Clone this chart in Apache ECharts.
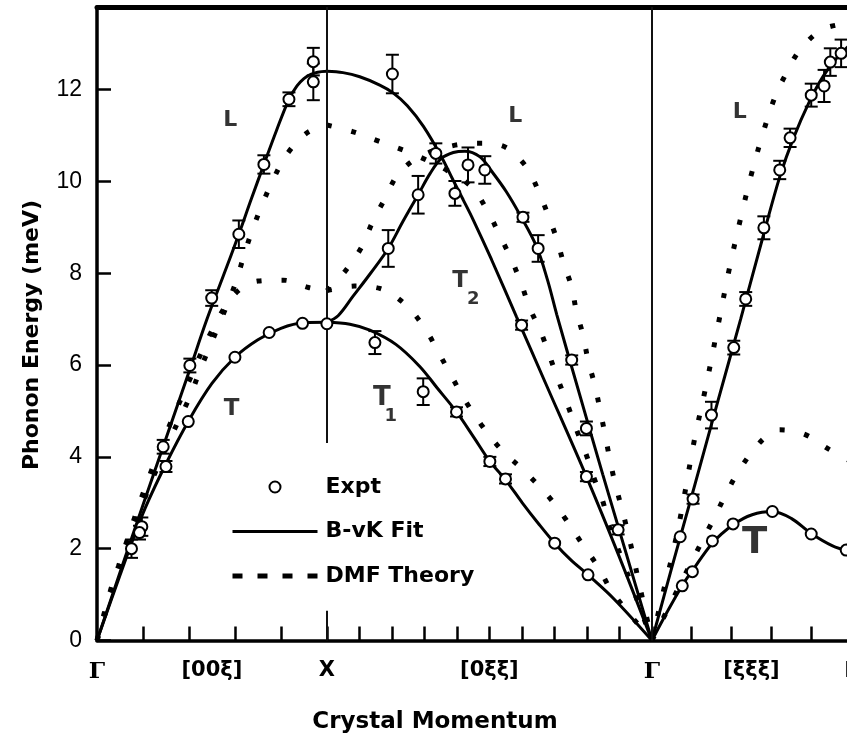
<!DOCTYPE html>
<html><head><meta charset="utf-8">
<script src="https://cdn.jsdelivr.net/npm/echarts@6/dist/echarts.min.js"></script>
<style>html,body{margin:0;padding:0;background:#fff;} #c{width:847px;height:742px;}</style>
</head><body><div id="c"></div>
<script>
// ---------- axis data ----------
const xMax = 3.28, yMax = 13.8;
const yTicks = [0, 2, 4, 6, 8, 10, 12];
const xTickPositions = [0.2, 0.4, 0.6, 0.8, 1.0, 1.141, 1.283, 1.424, 1.566, 1.707, 1.849, 1.990, 2.131, 2.273, 2.414, 2.587, 2.761, 2.934, 3.107];
const xLabelPositions = [0, 0.5, 1.0, 1.707, 2.414, 2.847];
const xLabelTexts = ['Γ', '[00ξ]', 'X', '[0ξξ]', 'Γ', '[ξξξ]'];
const edgeLabel = [3.28, 'L'];
const symX = 1.0, symGamma2 = 2.414;
const xLineBottom = 4.3, xTickTop = 0.65;

// ---------- B-vK fit curves [q, E] ----------
const bvkL1 = [[0,0],[0.1,1.48],[0.2,2.95],[0.3,4.4],[0.4,5.85],[0.477,6.98],[0.55,7.95],[0.617,8.85],[0.67,9.6],[0.726,10.37],[0.78,11.1],[0.835,11.79],[0.87,12.08],[0.9,12.24],[0.93,12.33],[0.96,12.38],[1.0,12.4]];
const bvkT1 = [[0,0],[0.1,1.42],[0.2,2.77],[0.3,3.85],[0.4,4.8],[0.5,5.6],[0.6,6.17],[0.7,6.55],[0.8,6.8],[0.9,6.92],[1.0,6.93]];
const bvkL2 = [[1.0,12.4],[1.07,12.37],[1.143,12.28],[1.23,12.1],[1.288,11.93],[1.35,11.65],[1.42,11.2],[1.498,10.54],[1.55,10.02],[1.593,9.6],[1.636,9.17],[1.716,8.3],[1.825,7.05],[1.95,5.62],[2.129,3.57],[2.27,1.85],[2.414,0]];
const bvkT2 = [[1.0,6.93],[1.05,7.08],[1.114,7.5],[1.19,8.0],[1.267,8.54],[1.33,9.12],[1.397,9.71],[1.45,10.18],[1.498,10.5],[1.55,10.63],[1.6,10.66],[1.665,10.54],[1.72,10.2],[1.78,9.78],[1.839,9.28],[1.912,8.58],[1.96,7.85],[2.0,7.1],[2.1,5.35],[2.2,3.62],[2.3,1.93],[2.414,0]];
const bvkT1b = [[1.0,6.93],[1.1,6.89],[1.187,6.76],[1.3,6.45],[1.404,5.97],[1.48,5.5],[1.564,4.98],[1.64,4.42],[1.709,3.9],[1.777,3.5],[1.85,3.0],[1.92,2.55],[1.991,2.12],[2.06,1.76],[2.136,1.43],[2.25,0.9],[2.414,0]];
const bvkL3 = [[2.414,0],[2.5,1.58],[2.6,3.38],[2.7,5.2],[2.8,7.0],[2.9,8.85],[2.97,10.1],[3.03,10.95],[3.1,11.75],[3.16,12.3],[3.22,12.7],[3.28,13.0]];
const bvkT3 = [[2.414,0],[2.48,0.62],[2.546,1.2],[2.59,1.52],[2.677,2.12],[2.767,2.52],[2.85,2.74],[2.938,2.81],[3.02,2.66],[3.107,2.33],[3.2,2.06],[3.28,1.93]];

// ---------- DMF theory curves [q, E] ----------
const dmfL1 = [[0,0],[0.1,1.6],[0.2,3.0],[0.3,4.2],[0.404,5.31],[0.448,5.89],[0.488,6.37],[0.532,6.9],[0.578,7.46],[0.607,7.85],[0.643,8.45],[0.68,9.0],[0.723,9.55],[0.767,10.05],[0.827,10.6],[0.914,11.06],[1.0,11.23]];
const dmfT1 = [[0,0],[0.057,1.06],[0.093,1.61],[0.2,3.2],[0.3,4.5],[0.4,5.65],[0.5,6.75],[0.6,7.55],[0.7,7.83],[0.81,7.85],[0.92,7.69],[1.0,7.62]];
const dmfL2 = [[1.0,11.23],[1.115,11.08],[1.23,10.87],[1.339,10.67],[1.41,10.52],[1.52,10.25],[1.629,9.88],[1.701,9.34],[1.752,8.82],[1.803,8.3],[1.847,7.75],[1.883,7.24],[1.933,6.69],[1.97,6.18],[2.006,5.68],[2.049,5.11],[2.086,4.59],[2.129,4.04],[2.165,3.5],[2.201,3.02],[2.23,2.48],[2.274,1.9],[2.33,1.15],[2.414,0]];
const dmfT2 = [[1.0,7.62],[1.079,8.04],[1.151,8.57],[1.199,9.12],[1.252,9.62],[1.313,10.18],[1.412,10.56],[1.549,10.78],[1.658,10.83],[1.76,10.78],[1.861,10.36],[1.919,9.81],[1.962,9.27],[1.999,8.76],[2.03,8.22],[2.064,7.71],[2.086,7.16],[2.114,6.66],[2.136,6.11],[2.165,5.57],[2.187,5.06],[2.209,4.51],[2.23,3.97],[2.252,3.46],[2.281,2.91],[2.31,2.34],[2.332,1.86],[2.353,1.36],[2.414,0]];
const dmfT1b = [[1.0,7.62],[1.12,7.72],[1.23,7.67],[1.339,7.33],[1.426,6.8],[1.484,6.29],[1.542,5.76],[1.6,5.24],[1.673,4.69],[1.76,4.15],[1.861,3.68],[1.962,3.15],[2.042,2.62],[2.114,2.08],[2.179,1.61],[2.245,1.03],[2.414,0]];
const dmfL3 = [[2.414,0],[2.47,1.2],[2.5,1.8],[2.542,2.8],[2.6,4.4],[2.65,5.56],[2.7,6.82],[2.75,8.08],[2.8,9.2],[2.85,10.22],[2.9,11.1],[2.95,11.85],[3.0,12.37],[3.06,12.88],[3.16,13.32],[3.28,13.45]];
const dmfT3 = [[2.414,0],[2.5,0.85],[2.6,1.85],[2.68,2.62],[2.73,3.13],[2.79,3.68],[2.864,4.2],[2.92,4.48],[2.97,4.59],[3.074,4.5],[3.183,4.17],[3.28,3.9]];

// ---------- experiment [q, E, error] ----------
const exptL1 = [[0.15,2.0,0.2],[0.195,2.48,0.2],[0.288,4.22,0.15],[0.404,5.99,0.15],[0.499,7.46,0.17],[0.617,8.85,0.3],[0.726,10.37,0.2],[0.835,11.79,0.15],[0.941,12.17,0.4],[0.941,12.61,0.3]];
const exptT1 = [[0.185,2.35,0.15],[0.3,3.79,0.12],[0.397,4.77,0],[0.6,6.17,0],[0.749,6.71,0],[0.894,6.91,0],[1.0,6.9,0]];
const exptL2 = [[1.285,12.34,0.42],[1.557,9.74,0.27],[1.847,6.87,0.1],[2.129,3.57,0.1]];
const exptT2 = [[1.267,8.54,0.4],[1.397,9.71,0.41],[1.474,10.61,0.22],[1.614,10.36,0.38],[1.687,10.25,0.3],[1.853,9.22,0.1],[1.919,8.54,0.29],[2.065,6.11,0.1],[2.129,4.62,0.15],[2.267,2.41,0.1]];
const exptT1b = [[1.209,6.49,0.25],[1.419,5.42,0.29],[1.564,4.98,0.1],[1.709,3.9,0.1],[1.777,3.52,0.1],[1.991,2.12,0],[2.136,1.43,0]];
const exptL3 = [[2.537,2.26,0],[2.593,3.08,0.1],[2.673,4.91,0.29],[2.77,6.38,0.15],[2.822,7.44,0.15],[2.901,8.99,0.25],[2.97,10.25,0.2],[3.015,10.95,0.2],[3.107,11.88,0.25],[3.163,12.08,0.35],[3.19,12.6,0.3],[3.237,12.79,0.3]];
const exptT3 = [[2.546,1.19,0],[2.59,1.5,0],[2.677,2.17,0],[2.767,2.54,0],[2.938,2.81,0],[3.107,2.32,0],[3.259,1.97,0]];

// ---------- branch annotations [q, E, text, fontSize] ----------
const annotations = [[0.58,11.34,'L',22],[1.82,11.43,'L',22],[2.796,11.51,'L',22],[0.585,5.05,'T',23],[1.239,5.28,'T',26],[1.278,4.88,'1',18],[1.58,7.82,'T',23],[1.637,7.44,'2',18],[2.861,2.11,'T',37]];

const allExpt = [].concat(exptL1, exptT1, exptL2, exptT2, exptT1b, exptL3, exptT3);
const errData = allExpt.filter(d => d[2] > 0);

const FONT = 'DejaVu Sans';
const bvkCurves = [bvkL1, bvkT1, bvkL2, bvkT2, bvkT1b, bvkL3, bvkT3];
const dmfCurves = [dmfL1, dmfT1, dmfL2, dmfT2, dmfT1b, dmfL3, dmfT3];

const series = [];
bvkCurves.forEach((c, i) => {
  const s = {
    name: 'B-vK Fit', type: 'line', data: c, smooth: 0.35, symbol: 'none', z: 3,
    itemStyle: { color: '#000' },
    lineStyle: { color: '#000', width: 3 }, silent: true
  };
  if (i === 0) {
    s.markLine = {
      symbol: ['none', 'none'], silent: true, label: { show: false },
      lineStyle: { color: '#111', width: 2, type: 'solid' },
      data: [
        [{ coord: [symX, xLineBottom] }, { coord: [symX, yMax] }],
        [{ coord: [symX, 0] }, { coord: [symX, xTickTop] }],
        [{ coord: [symGamma2, 0] }, { coord: [symGamma2, yMax] }]
      ]
    };
  }
  series.push(s);
});
dmfCurves.forEach(c => {
  series.push({
    name: 'DMF Theory', type: 'line', data: c, smooth: 0.35, symbol: 'none', z: 2,
    itemStyle: { color: '#000' },
    lineStyle: { color: '#000', width: 5, type: [5, 20], cap: 'butt' }, silent: true
  });
});
series.push({
  name: 'errbars', type: 'custom', data: errData, z: 4, silent: true,
  encode: { x: 0, y: 1 },
  renderItem: function (params, api) {
    const x = api.value(0), y = api.value(1), e = api.value(2);
    const top = api.coord([x, y + e]);
    const bot = api.coord([x, y - e]);
    const h = 6.5;
    const st = { stroke: '#000', lineWidth: 2 };
    return {
      type: 'group', children: [
        { type: 'line', shape: { x1: top[0], y1: top[1], x2: bot[0], y2: bot[1] }, style: st },
        { type: 'line', shape: { x1: top[0] - h, y1: top[1], x2: top[0] + h, y2: top[1] }, style: st },
        { type: 'line', shape: { x1: bot[0] - h, y1: bot[1], x2: bot[0] + h, y2: bot[1] }, style: st }
      ]
    };
  }
});
series.push({
  name: 'Expt', type: 'scatter', data: allExpt, symbol: 'circle', symbolSize: 11, z: 5,
  itemStyle: { color: '#fff', borderColor: '#000', borderWidth: 2, opacity: 1 }
});
series.push({
  name: 'labels', type: 'scatter', z: 6, symbolSize: 1, silent: true,
  itemStyle: { color: 'rgba(0,0,0,0)' },
  data: annotations.map(a => ({ value: [a[0], a[1]], label: { fontSize: a[3] } })),
  label: {
    show: true, position: 'inside', color: '#000', fontFamily: FONT, fontWeight: 'bold',
    formatter: p => annotations[p.dataIndex][2]
  }
});

const hidden = { color: 'rgba(0,0,0,0)', borderColor: 'rgba(0,0,0,0)', borderWidth: 0 };
const option = {
  animation: false,
  textStyle: { fontFamily: FONT },
  grid: { left: 97, top: 7, width: 754, height: 633.5, show: false, containLabel: false, outerBoundsMode: 'none' },
  legend: {
    orient: 'vertical', left: 230, top: 476, padding: 0,
    itemWidth: 85, itemHeight: 11, itemGap: 22.5, selectedMode: false,
    textStyle: { fontFamily: FONT, fontWeight: 'bold', fontSize: 22, color: '#000', padding: [0, 0, 0, 3] },
    data: [
      { name: 'Expt', icon: 'circle' },
      { name: 'B-vK Fit', itemStyle: hidden, lineStyle: { color: '#000', width: 3, type: 'solid' } },
      { name: 'DMF Theory', itemStyle: hidden, lineStyle: { type: [10, 15], width: 5, color: '#000' } }
    ]
  },
  xAxis: [{
    type: 'value', min: 0, max: xMax, position: 'bottom',
    axisLine: { show: true, onZero: false, lineStyle: { color: '#000', width: 3.5 } },
    axisTick: { show: true, inside: true, length: 14, customValues: xTickPositions, lineStyle: { color: '#000', width: 2.5 } },
    axisLabel: {
      customValues: xLabelPositions, margin: 20, color: '#000',
      formatter: function (v) {
        let idx = 0, best = 1e9;
        xLabelPositions.forEach((p, i) => { const d = Math.abs(p - v); if (d < best) { best = d; idx = i; } });
        const t = xLabelTexts[idx];
        return t === 'Γ' ? '{g|' + t + '}' : '{s|' + t + '}';
      },
      rich: {
        g: { fontFamily: 'DejaVu Serif', fontWeight: 'bold', fontSize: 23, color: '#000' },
        s: { fontFamily: FONT, fontWeight: 'bold', fontSize: 21, color: '#000' }
      }
    },
    splitLine: { show: false }
  }, {
    type: 'value', min: 0, max: xMax, position: 'top',
    axisLine: { show: true, onZero: false, lineStyle: { color: '#000', width: 5 } },
    axisTick: { show: false }, axisLabel: { show: false }, splitLine: { show: false }
  }],
  yAxis: {
    type: 'value', min: 0, max: yMax,
    axisLine: { show: true, onZero: false, lineStyle: { color: '#000', width: 3.5 } },
    axisTick: { show: true, inside: true, length: 14, customValues: yTicks, lineStyle: { color: '#000', width: 2.5 } },
    axisLabel: { customValues: yTicks, margin: 15, color: '#000', fontFamily: 'Liberation Sans', fontSize: 23 },
    splitLine: { show: false }
  },
  graphic: [
    { type: 'text', x: 32, y: 335, rotation: Math.PI / 2,
      style: { text: 'Phonon Energy (meV)', font: 'bold 22px "DejaVu Sans"', fill: '#000', align: 'center', verticalAlign: 'middle' } },
    { type: 'text', x: 435, y: 722,
      style: { text: 'Crystal Momentum', font: 'bold 23px "DejaVu Sans"', fill: '#000', align: 'center', verticalAlign: 'middle' } }
  ],
  series: series
};
const chart = echarts.init(document.getElementById('c'), null, { renderer: 'canvas' });
chart.setOption(option);
// edge label 'L' placed at its axis value (cut by the canvas edge as in the source figure)
const lx = chart.convertToPixel({ xAxisIndex: 0 }, edgeLabel[0]);
const ly = chart.convertToPixel({ yAxisIndex: 0 }, 0);
chart.setOption({ graphic: option.graphic.concat([
  { type: 'text', x: lx, y: ly + 31,
    style: { text: edgeLabel[1], font: 'bold 21px "DejaVu Sans"', fill: '#000', align: 'center', verticalAlign: 'middle' } }
]) });
</script>
</body></html>
